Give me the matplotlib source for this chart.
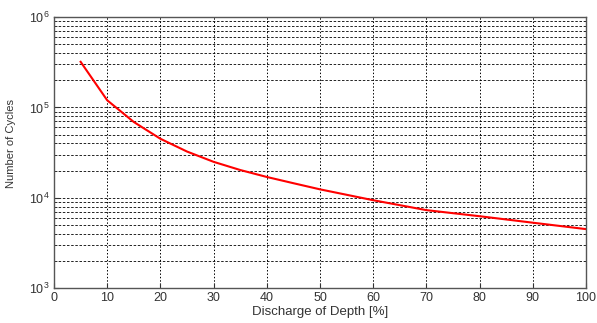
import matplotlib
matplotlib.use("Agg")
import matplotlib.pyplot as plt
from matplotlib.ticker import LogLocator, NullFormatter

plt.rcParams['font.family'] = ['Liberation Sans', 'DejaVu Sans']

# depth of discharge [%] and cycles
dod = [5, 10, 15, 20, 25, 30, 35, 40, 45, 50, 60, 70, 80, 90, 100]
cycles = [3.2e5, 1.2e5, 6.9e4, 4.5e4, 3.25e4, 2.5e4, 2.03e4, 1.7e4,
          1.45e4, 1.24e4, 9.4e3, 7.3e3, 6.25e3, 5.3e3, 4.5e3]

x_ticks = [0, 10, 20, 30, 40, 50, 60, 70, 80, 90, 100]

fig = plt.figure(figsize=(5.97, 3.23), dpi=100)
ax = fig.add_axes([0.0905, 0.108, 0.891, 0.839])

ax.plot(dod, cycles, color='red', lw=1.5)

ax.set_yscale('log')
ax.set_xlim(0, 100)
ax.set_ylim(1e3, 1e6)
ax.set_xticks(x_ticks)
ax.yaxis.set_major_locator(LogLocator(base=10, numticks=10))
ax.yaxis.set_minor_locator(LogLocator(base=10, subs=range(2, 10), numticks=10))
ax.yaxis.set_minor_formatter(NullFormatter())

ax.grid(True, which='major', axis='x', color='black', ls=(0, (1.5, 2)), lw=0.7)
ax.grid(True, which='both', axis='y', color='black', ls=(0, (3, 2)), lw=0.6)

ax.tick_params(which='both', direction='in', labelsize=9, colors='#333333',
               top=False, right=False, pad=3)
ax.tick_params(which='minor', length=2)
for s in ax.spines.values():
    s.set_color('#555555')
    s.set_linewidth(1.0)

ax.set_xlabel('Discharge of Depth [%]', fontsize=9.5, color='#333333', labelpad=1)
ax.set_ylabel('Number of Cycles', fontsize=8, color='#333333')
ax.yaxis.set_label_coords(-0.072, 0.535)

fig.savefig('out.png', dpi=100)
